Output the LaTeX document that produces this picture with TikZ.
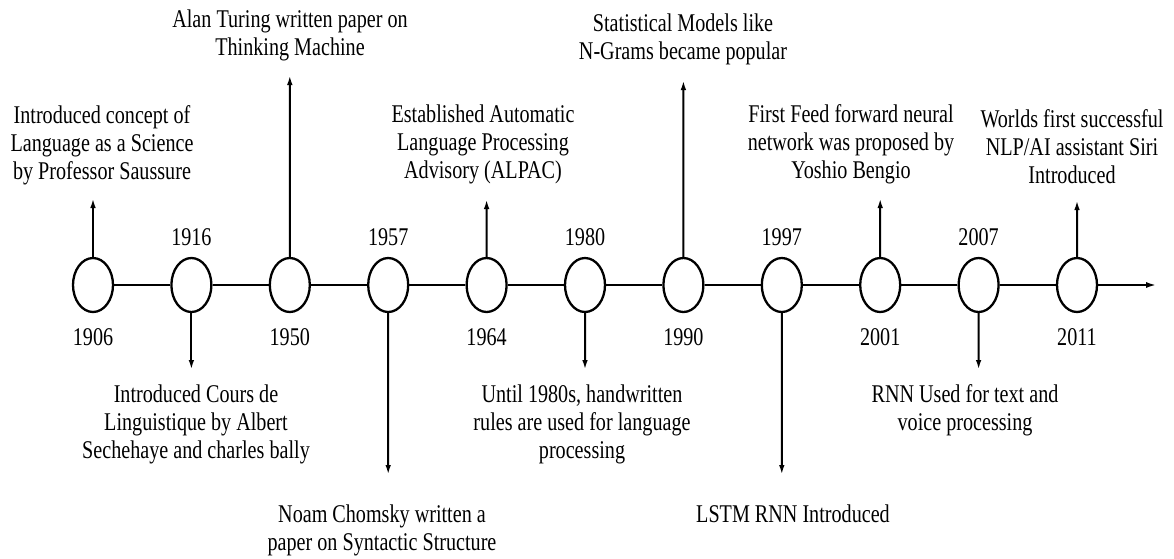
\documentclass[tikz,border=0pt]{standalone}
\usepackage{fontspec}
\setmainfont{Liberation Serif}[FakeStretch=0.79]
\usetikzlibrary{arrows.meta,shapes.geometric}

% multi-line caption; its reference point is the baseline of the first line
\newcommand{\caplines}[1]{\begin{tabular}[t]{@{}c@{}}#1\end{tabular}}

\tikzset{
  every node/.style={font=\fontsize{25.5}{28}\selectfont},
  event/.style={ellipse, draw, line width=2.3pt, fill=white,
                minimum width=40pt, minimum height=54pt, inner sep=0pt},
  yearlbl/.style={anchor=base, inner sep=0pt},
  note/.style={anchor=base, inner sep=0pt},
  axis/.style={line width=2.3pt},
  pointer/.style={line width=2pt, -{Latex[length=10pt,width=5.5pt]}},
}

\begin{document}
\begin{tikzpicture}[x=1pt,y=-1pt]
\useasboundingbox (0,0) rectangle (1174,558);

% events on the time line
\foreach \yr/\i in {1906/0,1916/1,1950/2,1957/3,1964/4,1980/5,1990/6,1997/7,2001/8,2007/9,2011/10}
  \node[event] (e\yr) at ({93+98.4*\i},285) {};

% time line segments and the final arrow
\coordinate (tend) at (1157,285);
\draw[axis] (e1906) -- (e1916);
\draw[axis] (e1916) -- (e1950);
\draw[axis] (e1950) -- (e1957);
\draw[axis] (e1957) -- (e1964);
\draw[axis] (e1964) -- (e1980);
\draw[axis] (e1980) -- (e1990);
\draw[axis] (e1990) -- (e1997);
\draw[axis] (e1997) -- (e2001);
\draw[axis] (e2001) -- (e2007);
\draw[axis] (e2007) -- (e2011);
\draw[axis,-{Latex[length=11pt,width=6pt]}] (e2011) -- (tend);

% year labels
\foreach \yr/\i in {1906/0,1950/2,1964/4,1990/6,2001/8,2011/10}
  \node[yearlbl] (y\yr) at ({93+98.4*\i},345) {\yr};
\foreach \yr/\i in {1916/1,1957/3,1980/5,1997/7,2007/9}
  \node[yearlbl] (y\yr) at ({93+98.4*\i},245) {\yr};

% arrow tips
\coordinate (t1906) at (93,198);
\coordinate (t1916) at (191.4,370);
\coordinate (t1950) at (289.8,75);
\coordinate (t1957) at (388.2,475);
\coordinate (t1964) at (486.6,199);
\coordinate (t1980) at (585,370);
\coordinate (t1990) at (683.4,80);
\coordinate (t1997) at (781.8,475);
\coordinate (t2001) at (880.2,198);
\coordinate (t2007) at (978.6,370);
\coordinate (t2011) at (1077,200);

\foreach \yr in {1906,1950,1964,1990,2001,2011}
  \draw[pointer] (e\yr.north) -- (t\yr);
\foreach \yr in {1916,1957,1980,1997,2007}
  \draw[pointer] (e\yr.south) -- (t\yr);

% captions
\node[note] (n1906) at (102,123) {\caplines{Introduced concept of\\Language as a Science\\by Professor Saussure}};
\node[note] (n1916) at (196,402) {\caplines{Introduced Cours de\\Linguistique by Albert\\Sechehaye and charles bally}};
\node[note] (n1950) at (290,27) {\caplines{Alan Turing written paper on\\Thinking Machine}};
\node[note] (n1957) at (382,522) {\caplines{Noam Chomsky written a\\paper on Syntactic Structure}};
\node[note] (n1964) at (483,122) {\caplines{Established Automatic\\Language Processing\\Advisory (ALPAC)}};
\node[note] (n1980) at (582,402) {\caplines{Until 1980s, handwritten\\rules are used for language\\processing}};
\node[note] (n1990) at (683,31) {\caplines{Statistical Models like\\N-Grams became popular}};
\node[note] (n1997) at (793,522) {\caplines{LSTM RNN Introduced}};
\node[note] (n2001) at (851,122) {\caplines{First Feed forward neural\\network was proposed by\\Yoshio Bengio}};
\node[note] (n2007) at (965,402) {\caplines{RNN Used for text and\\voice processing}};
\node[note] (n2011) at (1072,127) {\caplines{Worlds first successful\\NLP/AI assistant Siri\\Introduced}};
\end{tikzpicture}
\end{document}
